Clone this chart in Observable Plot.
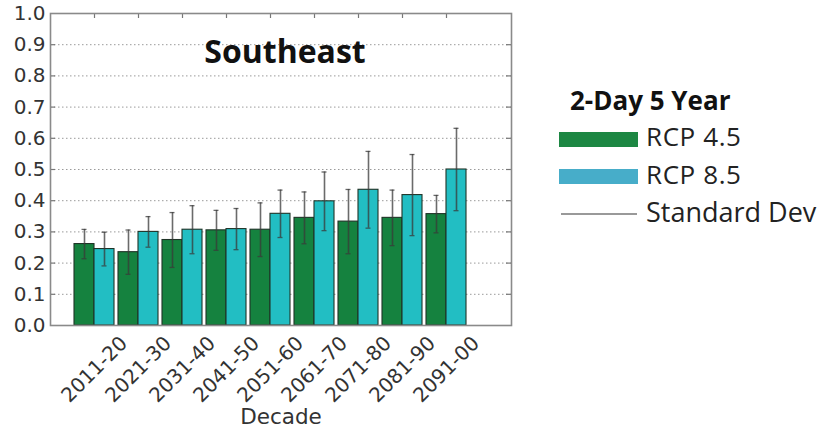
<!DOCTYPE html>
<html>
<head>
<meta charset="utf-8">
<script src="https://cdn.jsdelivr.net/npm/d3@7"></script>
<script src="https://cdn.jsdelivr.net/npm/@observablehq/plot@0.6"></script>
<style>
  html, body { margin: 0; padding: 0; background: #fff; }
  #wrap { position: relative; width: 824px; height: 429px; overflow: hidden; }
  #legend { position: absolute; left: 0; top: 0; }
</style>
</head>
<body>
<div id="wrap"></div>
<script>
const decades = ["2011-20","2021-30","2031-40","2041-50","2051-60","2061-70","2071-80","2081-90","2091-00"];
const rcp45 = [0.261, 0.235, 0.274, 0.305, 0.307, 0.345, 0.333, 0.345, 0.357];
const rcp45sd = [0.047, 0.071, 0.088, 0.064, 0.086, 0.083, 0.103, 0.089, 0.060];
const rcp85 = [0.245, 0.300, 0.307, 0.309, 0.358, 0.398, 0.435, 0.418, 0.500];
const rcp85sd = [0.054, 0.049, 0.077, 0.066, 0.076, 0.094, 0.123, 0.130, 0.132];
const yTicks = [0, 0.1, 0.2, 0.3, 0.4, 0.5, 0.6, 0.7, 0.8, 0.9, 1.0];
const gridTicks = [0.1, 0.2, 0.3, 0.4, 0.5, 0.6, 0.7, 0.8, 0.9];
const title = "Southeast";
const xLabel = "Decade";
const legendTitle = "2-Day 5 Year";
const seriesNames = ["RCP 4.5", "RCP 8.5"];
const sdName = "Standard Dev";

const green = "#15823f";
const cyan = "#22bec3";
const legendGreen = "#1d8743";
const legendCyan = "#47adc9";

const d45 = decades.map((d, i) => ({decade: d, mean: rcp45[i], sd: rcp45sd[i]}));
const d85 = decades.map((d, i) => ({decade: d, mean: rcp85[i], sd: rcp85sd[i]}));

const tickFont = "'DejaVu Sans', sans-serif";
const errColor = "#3a3a3a";

const chart = Plot.plot({
  width: 824,
  height: 429,
  marginLeft: 50,
  marginRight: 313,
  marginTop: 13,
  marginBottom: 104,
  style: {fontFamily: tickFont, background: "#fff"},
  x: {domain: decades, type: "band", padding: 0, insetLeft: 22, insetRight: 43, axis: null},
  y: {domain: [0, 1], axis: null},
  marks: [
    Plot.gridY(gridTicks, {stroke: "#9a9a9a", strokeOpacity: 1, strokeWidth: 1, strokeDasharray: "1.5,2.5"}),
    Plot.tickY(gridTicks, {y: d => d, insetRight: 456, stroke: "#777", strokeWidth: 1.2}),
    Plot.tickY(gridTicks, {y: d => d, insetLeft: 456, stroke: "#777", strokeWidth: 1.2}),
    Plot.tickX(decades, {x: d => d, insetBottom: 307, stroke: "#777", strokeWidth: 1.2}),
    Plot.barY(d45, {x: "decade", y: "mean", fill: green, stroke: "#1f3327", strokeWidth: 1.1, insetLeft: 2, insetRight: 22}),
    Plot.barY(d85, {x: "decade", y: "mean", fill: cyan, stroke: "#1f3327", strokeWidth: 1.1, insetLeft: 22, insetRight: 2}),
    Plot.ruleX(d45, {x: "decade", y1: d => d.mean - d.sd, y2: d => d.mean + d.sd, dx: -10, stroke: errColor, strokeOpacity: 0.75, strokeWidth: 1.6}),
    Plot.ruleX(d85, {x: "decade", y1: d => d.mean - d.sd, y2: d => d.mean + d.sd, dx: 10, stroke: errColor, strokeOpacity: 0.75, strokeWidth: 1.6}),
    Plot.tickY(d45, {x: "decade", y: d => d.mean + d.sd, insetLeft: 9.5, insetRight: 29.5, stroke: errColor, strokeOpacity: 0.75, strokeWidth: 1.3}),
    Plot.tickY(d45, {x: "decade", y: d => d.mean - d.sd, insetLeft: 9.5, insetRight: 29.5, stroke: errColor, strokeOpacity: 0.75, strokeWidth: 1.3}),
    Plot.tickY(d85, {x: "decade", y: d => d.mean + d.sd, insetLeft: 29.5, insetRight: 9.5, stroke: errColor, strokeOpacity: 0.75, strokeWidth: 1.3}),
    Plot.tickY(d85, {x: "decade", y: d => d.mean - d.sd, insetLeft: 29.5, insetRight: 9.5, stroke: errColor, strokeOpacity: 0.75, strokeWidth: 1.3}),
    Plot.frame({stroke: "#8a8a8a", strokeWidth: 1.6}),
    Plot.axisY(yTicks, {tickSize: 0, tickPadding: 5, tickFormat: d3.format(".1f"), fontSize: 20, fill: "#333", label: null}),
    Plot.text(decades, {x: d => d, frameAnchor: "bottom", dy: 44, rotate: -45, textAnchor: "middle", lineAnchor: "middle", fontSize: 20, fill: "#333"}),
    Plot.text([xLabel], {frameAnchor: "bottom", dy: 98, lineAnchor: "bottom", fontSize: 21.5, fill: "#333"}),
    Plot.text([title], {frameAnchor: "top", dx: 4, dy: 49, lineAnchor: "bottom", fontSize: 32, fontWeight: "bold", fontFamily: "'Open Sans', sans-serif", fill: "#111"})
  ]
});

const wrap = document.getElementById("wrap");
wrap.appendChild(chart);

// Legend (drawn with d3 as an overlay)
const lg = d3.select(wrap).append("svg").attr("id", "legend").attr("width", 824).attr("height", 429);
const lf = "'Open Sans', sans-serif";
lg.append("text").attr("x", 570).attr("y", 110).attr("font-family", lf).attr("font-weight", "bold").attr("font-size", 26).attr("fill", "#111").text(legendTitle);
lg.append("rect").attr("x", 559).attr("y", 132).attr("width", 79).attr("height", 15).attr("fill", legendGreen);
lg.append("text").attr("x", 646).attr("y", 146).attr("font-family", lf).attr("font-size", 26).attr("letter-spacing", 0.6).attr("fill", "#222").text(seriesNames[0]);
lg.append("rect").attr("x", 559).attr("y", 169).attr("width", 79).attr("height", 15).attr("fill", legendCyan);
lg.append("text").attr("x", 646).attr("y", 184).attr("font-family", lf).attr("font-size", 26).attr("letter-spacing", 0.6).attr("fill", "#222").text(seriesNames[1]);
lg.append("line").attr("x1", 561).attr("x2", 637).attr("y1", 214).attr("y2", 214).attr("stroke", "#777").attr("stroke-width", 1.5);
lg.append("text").attr("x", 646).attr("y", 222).attr("font-family", lf).attr("font-size", 27).attr("fill", "#222").text(sdName);
</script>
</body>
</html>
